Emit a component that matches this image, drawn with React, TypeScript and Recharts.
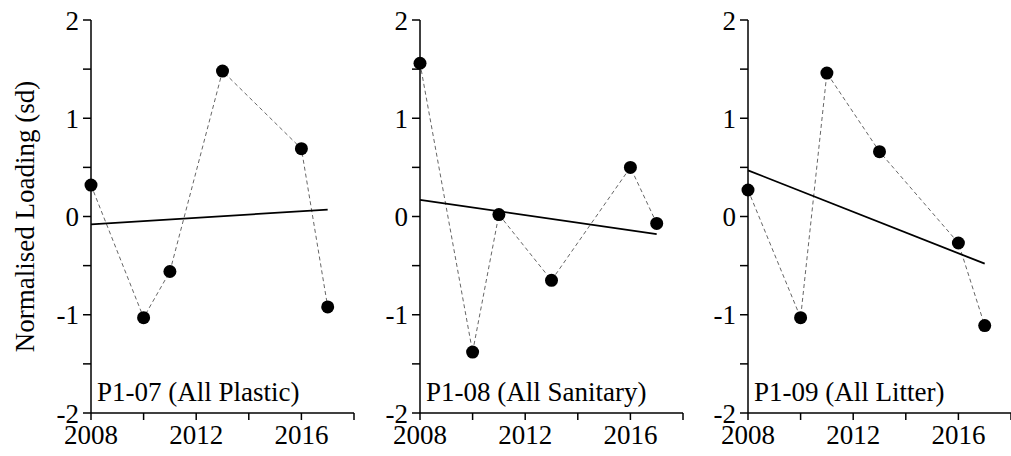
import { Line, LineChart, XAxis, YAxis } from 'recharts';

const YEARS = [2008, 2010, 2011, 2013, 2016, 2017];
const PLASTIC = [0.32, -1.03, -0.56, 1.48, 0.69, -0.92];
const SANITARY = [1.56, -1.38, 0.02, -0.65, 0.5, -0.07];
const LITTER = [0.27, -1.03, 1.46, 0.66, -0.27, -1.11];

const TREND_YEARS = [2008, 2017];
const PLASTIC_TREND = [-0.08, 0.07];
const SANITARY_TREND = [0.17, -0.18];
const LITTER_TREND = [0.47, -0.48];

const X_TICKS = [2008, 2010, 2012, 2014, 2016, 2018];
const Y_TICKS = [-2, -1.5, -1, -0.5, 0, 0.5, 1, 1.5, 2];

const PANEL_TITLES = ['P1-07 (All Plastic)', 'P1-08 (All Sanitary)', 'P1-09 (All Litter)'];
const Y_LABEL = 'Normalised Loading (sd)';

const FONT = "'Liberation Serif', 'Times New Roman', Tinos, 'DejaVu Serif', serif";
const FS = 27;

const toRows = (xs: number[], ys: number[]) => xs.map((x, i) => ({ year: x, v: ys[i] }));

type PanelProps = {
  left: number;
  axisWidth: number;
  rightMargin: number;
  title: string;
  values: number[];
  trend: number[];
  showYLabel?: boolean;
};

function Panel({ left, axisWidth, rightMargin, title, values, trend, showYLabel }: PanelProps) {
  const plotWidth = 263;
  const width = axisWidth + plotWidth + rightMargin;
  const tick = { fill: '#000', fontSize: FS, style: { fontFamily: FONT } };
  return (
    <div style={{ position: 'absolute', left, top: 0, width, height: 456, fontFamily: FONT }}>
      <LineChart
        width={width}
        height={456}
        margin={{ top: 20, right: rightMargin, bottom: 0, left: 0 }}
        style={{ fontFamily: FONT }}
      >
        <XAxis
          dataKey="year"
          type="number"
          domain={[2008, 2018]}
          ticks={X_TICKS}
          interval={0}
          height={43}
          tickSize={7}
          tickMargin={5}
          stroke="#000"
          strokeWidth={1.5}
          tick={tick}
          tickFormatter={(v: number) => (v % 4 === 0 ? String(v) : '')}
        />
        <YAxis
          type="number"
          domain={[-2, 2]}
          ticks={Y_TICKS}
          interval={0}
          width={axisWidth}
          tickSize={8}
          tickMargin={4}
          stroke="#000"
          strokeWidth={1.5}
          tick={tick}
          tickFormatter={(v: number) => (Number.isInteger(v) ? String(v) : '')}
          label={
            showYLabel
              ? {
                  value: Y_LABEL,
                  angle: -90,
                  position: 'insideLeft',
                  offset: 24,
                  style: { textAnchor: 'middle', fill: '#000', fontSize: FS, fontFamily: FONT },
                }
              : undefined
          }
        />
        <Line
          data={toRows(YEARS, values)}
          dataKey="v"
          type="linear"
          stroke="#666"
          strokeWidth={1}
          strokeDasharray="4 3"
          dot={{ r: 6.5, fill: '#000', stroke: '#000', strokeWidth: 0 }}
          activeDot={false}
          isAnimationActive={false}
        />
        <Line
          data={toRows(TREND_YEARS, trend)}
          dataKey="v"
          type="linear"
          stroke="#000"
          strokeWidth={1.8}
          dot={false}
          activeDot={false}
          isAnimationActive={false}
        />
      </LineChart>
      <div
        style={{
          position: 'absolute',
          left: axisWidth + 6,
          top: 379,
          fontFamily: FONT,
          fontSize: FS,
          lineHeight: 1,
          color: '#000',
          whiteSpace: 'nowrap',
        }}
      >
        {title}
      </div>
    </div>
  );
}

export default function App() {
  return (
    <div style={{ position: 'absolute', left: 0, top: 0, width: 1011, height: 456, background: '#fff' }}>
      <Panel left={0} axisWidth={91} rightMargin={5} title={PANEL_TITLES[0]} values={PLASTIC} trend={PLASTIC_TREND} showYLabel />
      <Panel left={330} axisWidth={90} rightMargin={5} title={PANEL_TITLES[1]} values={SANITARY} trend={SANITARY_TREND} />
      <Panel left={660} axisWidth={88} rightMargin={0} title={PANEL_TITLES[2]} values={LITTER} trend={LITTER_TREND} />
    </div>
  );
}
